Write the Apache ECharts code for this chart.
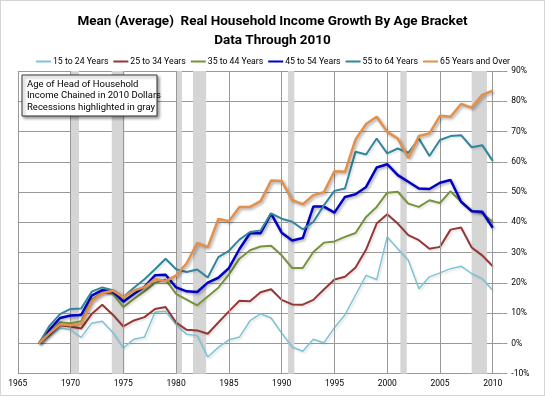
<!DOCTYPE html>
<html>
<head>
<meta charset="utf-8">
<script src="https://cdn.jsdelivr.net/npm/echarts@6/dist/echarts.min.js"></script>
<style>
  html, body { margin: 0; padding: 0; background: #fff; }
  #chart { width: 545px; height: 396px; }
</style>
</head>
<body>
<div id="chart"></div>
<script>
// data, % growth since 1967
const years = [1967, 1968, 1969, 1970, 1971, 1972, 1973, 1974, 1975, 1976, 1977, 1978, 1979, 1980, 1981,
  1982, 1983, 1984, 1985, 1986, 1987, 1988, 1989, 1990, 1991, 1992, 1993, 1994, 1995, 1996, 1997,
  1998, 1999, 2000, 2001, 2002, 2003, 2004, 2005, 2006, 2007, 2008, 2009, 2010];

const age15to24 = [0, 2.3, 5.1, 4.5, 2.0, 6.7, 7.3, 3.6, -1.5, 1.4, 2.1, 10.3, 10.6, 6.2, 3.0,
  2.6, -4.5, -1.3, 1.2, 2.1, 7.5, 9.8, 8.4, 3.4, -1.2, -2.6, 1.4, 0.2, 5.2, 9.5, 16.0,
  22.5, 21.1, 35.2, 31.3, 27.5, 18.1, 22.0, 23.3, 24.7, 25.5, 23.1, 21.4, 17.6];
const age25to34 = [0, 2.9, 6.0, 5.6, 4.9, 9.7, 12.8, 9.5, 5.6, 7.6, 8.7, 11.4, 12.0, 6.9, 4.5,
  4.3, 3.2, 6.9, 10.6, 14.1, 13.9, 16.9, 17.9, 14.4, 12.9, 12.8, 14.4, 17.8, 21.1, 22.0, 25.1,
  31.0, 39.6, 42.7, 39.6, 35.8, 34.1, 31.3, 31.9, 37.6, 38.3, 31.7, 29.1, 25.5];
const age35to44 = [0, 3.3, 7.0, 6.7, 7.3, 14.4, 16.8, 16.4, 12.0, 14.7, 17.2, 20.0, 21.1, 16.4, 14.5,
  12.6, 15.5, 18.4, 22.7, 28.0, 30.8, 32.0, 32.3, 29.1, 24.9, 24.9, 30.2, 33.3, 33.7, 35.2, 36.5,
  41.8, 45.1, 49.8, 50.1, 46.2, 45.1, 47.3, 46.4, 50.3, 46.8, 43.8, 42.9, 40.2];
const age45to54 = [0, 4.5, 8.4, 9.2, 9.4, 15.8, 17.6, 17.2, 13.8, 16.3, 18.7, 22.5, 22.7, 18.5, 17.2,
  17.0, 20.1, 21.7, 24.9, 31.2, 36.4, 36.4, 42.9, 36.6, 34.0, 34.8, 45.2, 45.2, 43.2, 48.4, 49.3,
  51.7, 58.1, 59.2, 55.6, 53.4, 51.2, 51.0, 53.1, 54.0, 46.8, 43.7, 43.5, 38.2];
const age55to64 = [0, 5.8, 9.7, 11.4, 11.5, 17.1, 18.5, 17.6, 15.3, 18.4, 21.2, 24.5, 28.0, 24.5, 23.6,
  24.4, 21.8, 28.5, 30.6, 34.3, 36.8, 37.3, 43.0, 41.2, 40.2, 37.7, 40.1, 45.6, 50.4, 51.2, 63.3,
  62.4, 67.7, 62.8, 64.4, 63.0, 67.7, 61.9, 67.2, 68.5, 68.8, 64.8, 65.5, 60.3];
const age65plus = [0, 3.4, 6.3, 6.0, 6.3, 13.9, 16.6, 17.5, 15.3, 17.5, 18.6, 21.3, 20.5, 22.5, 26.5,
  33.2, 31.8, 41.1, 40.4, 45.1, 45.1, 47.0, 53.8, 53.7, 47.3, 46.0, 49.0, 50.0, 56.9, 56.7, 67.4,
  72.5, 74.9, 69.9, 67.7, 61.3, 68.5, 69.4, 75.2, 74.9, 79.1, 77.9, 82.1, 83.5];

const seriesNames = ['15 to 24 Years', '25 to 34 Years', '35 to 44 Years',
  '45 to 54 Years', '55 to 64 Years', '65 Years and Over'];
const seriesValues = [age15to24, age25to34, age35to44, age45to54, age55to64, age65plus];

// recessions (start, end) in fractional years
const recessions = [[1970.0, 1970.8], [1973.9, 1975.1], [1980.0, 1980.55], [1981.6, 1982.85],
  [1990.6, 1991.2], [2001.25, 2001.85], [2008.0, 2009.45]];

const xGridYears = [1965, 1970, 1975, 1980, 1985, 1990, 1995, 2000, 2005, 2010];

const colors = ['#7ec3d6', '#953735', '#77933c', '#0000c8', '#31859c', '#e3914a'];
const widths = [1.5, 2, 2, 2.5, 2, 2.5];
const shadowed = [false, false, false, true, false, true];

const font = "Roboto, 'Liberation Sans', sans-serif";

let chart = echarts.init(document.getElementById('chart'), null, { renderer: 'canvas' });

let series = [{
  // background: recession bars + vertical grid
  name: 'bg',
  type: 'line',
  data: [],
  z: 1,
  silent: true,
  markArea: {
    silent: true,
    itemStyle: { color: '#d5d5d5' },
    data: recessions.map(r => [{ xAxis: r[0] }, { xAxis: r[1] }])
  },
  markLine: {
    silent: true,
    symbol: 'none',
    animation: false,
    label: { show: false },
    lineStyle: { color: '#999', width: 1, type: 'solid' },
    data: xGridYears.map(y => ({ xAxis: y }))
  }
}];

seriesValues.forEach((vals, i) => {
  series.push({
    name: seriesNames[i],
    type: 'line',
    symbol: 'none',
    z: 3 + i,
    data: years.map((y, k) => [y, vals[k]]),
    lineStyle: {
      color: colors[i],
      width: widths[i],
      shadowColor: shadowed[i] ? 'rgba(0,0,0,0.35)' : 'rgba(0,0,0,0.12)',
      shadowBlur: shadowed[i] ? 3 : 2,
      shadowOffsetX: 1.5,
      shadowOffsetY: 1.5
    },
    itemStyle: { color: colors[i] }
  });
});

chart.setOption({
  animation: false,
  color: colors,
  title: {
    text: 'Mean (Average)  Real Household Income Growth By Age Bracket\nData Through 2010',
    left: 'center',
    top: 7,
    textStyle: { fontFamily: font, fontSize: 13.5, fontWeight: 'bold', color: '#000', lineHeight: 19 }
  },
  legend: {
    data: seriesNames,
    top: 52,
    left: 'center',
    itemWidth: 15,
    itemHeight: 2,
    itemGap: 4,
    textStyle: { fontFamily: font, fontSize: 8.7, color: '#000', padding: [0, 0, 0, -3] }
  },
  grid: { left: 17.8, right: 41.7, top: 71, bottom: 22.3 },
  xAxis: {
    type: 'value',
    min: 1965,
    max: 2011,
    interval: 5,
    axisLine: { show: false },
    axisTick: { show: false },
    splitLine: { show: false },
    axisLabel: {
      fontFamily: font, fontSize: 8.5, color: '#000', margin: 6,
      formatter: v => (v % 5 === 0 ? String(v) : '')
    }
  },
  yAxis: {
    type: 'value',
    position: 'right',
    min: -10,
    max: 90,
    interval: 10,
    axisLine: { show: false },
    axisTick: { show: true, length: 4, lineStyle: { color: '#999' } },
    splitLine: { lineStyle: { color: '#999', width: 1 } },
    axisLabel: { fontFamily: font, fontSize: 8.5, color: '#000', margin: 8, formatter: '{value}%' }
  },
  graphic: [
    {
      type: 'rect',
      shape: { x: 0.5, y: 0.5, width: 544, height: 395 },
      style: { fill: 'none', stroke: '#aaa', lineWidth: 1, lineDash: [1, 1] },
      silent: true
    },
    {
      type: 'rect',
      z: 100,
      shape: { x: 22, y: 75, width: 135, height: 41 },
      style: {
        fill: '#fff', stroke: '#333', lineWidth: 1,
        shadowColor: 'rgba(0,0,0,0.4)', shadowBlur: 3, shadowOffsetX: 2, shadowOffsetY: 2
      }
    },
    {
      type: 'text',
      z: 101,
      left: 27,
      top: 78.5,
      style: {
        text: 'Age of Head of Household\nIncome Chained in 2010 Dollars\nRecessions highlighted in gray',
        fontFamily: font, fontSize: 9.5, lineHeight: 11.5, fill: '#000'
      }
    }
  ],
  series: series
});
</script>
</body>
</html>
